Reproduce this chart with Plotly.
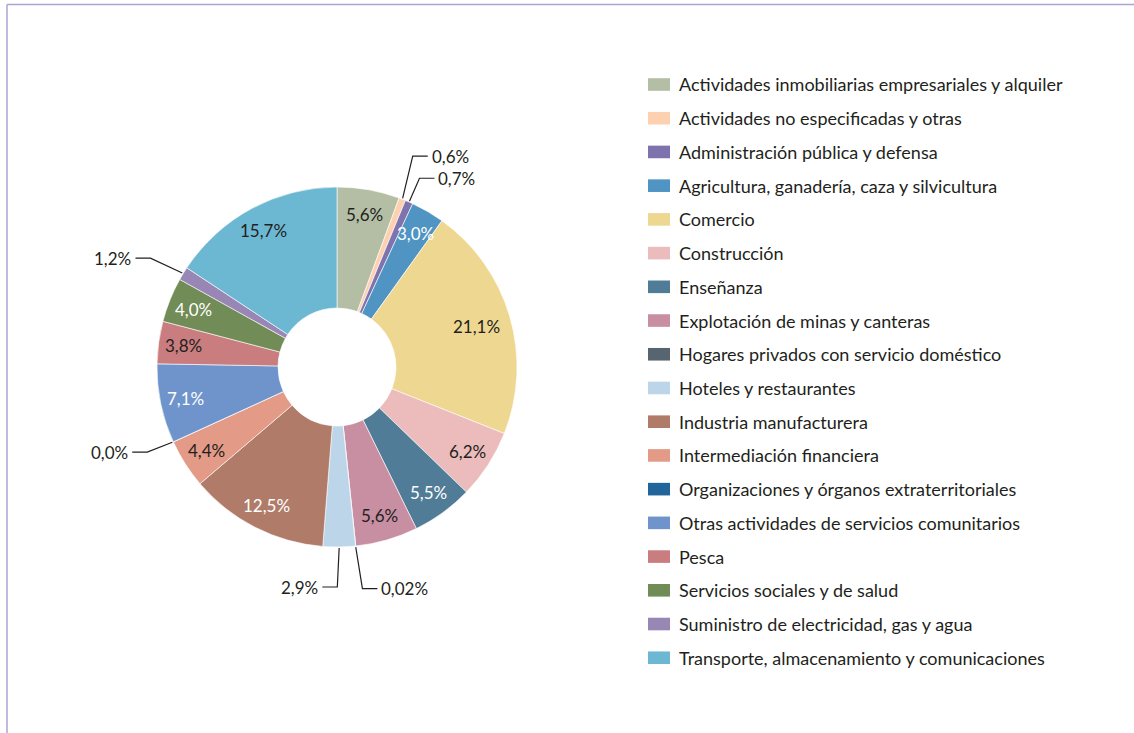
import math
import plotly.graph_objects as go

categories = [
    "Actividades inmobiliarias empresariales y alquiler",
    "Actividades no especificadas y otras",
    "Administración pública y defensa",
    "Agricultura, ganadería, caza y silvicultura",
    "Comercio",
    "Construcción",
    "Enseñanza",
    "Explotación de minas y canteras",
    "Hogares privados con servicio doméstico",
    "Hoteles y restaurantes",
    "Industria manufacturera",
    "Intermediación financiera",
    "Organizaciones y órganos extraterritoriales",
    "Otras actividades de servicios comunitarios",
    "Pesca",
    "Servicios sociales y de salud",
    "Suministro de electricidad, gas y agua",
    "Transporte, almacenamiento y comunicaciones",
]
values = [5.6, 0.6, 0.7, 3.0, 21.1, 6.2, 5.5, 5.6, 0.02, 2.9, 12.5, 4.4, 0.0, 7.1, 3.8, 4.0, 1.2, 15.7]

colors = [
    "#b3bea5", "#fdd1b0", "#7f73ad", "#4f94c2", "#eed891", "#ebbcbb",
    "#517c97", "#c88fa3", "#56656f", "#bcd5e8", "#b07c69", "#e39a86",
    "#22659a", "#6f94cc", "#c97d7f", "#718c56", "#9886b5", "#6cb8d3",
]
white_text = {3, 6, 10, 13, 15}
# index -> (elbow radius px, elbow angle shift deg, horizontal direction)
outside = {1: (224, -1.5, 1), 2: (206, 0, 1), 8: (223, -0.6, 1), 9: (220, 0.6, -1),
           12: (208, 0.4, -1), 16: (216, -1.0, -1)}
label_radius = {4: 145}

W, H = 1134, 733
CX, CY = 337, 367
R = 180
HOLE = 59
RAX = 260
FONT = "Lato"
TXT = "#231f20"


def fmt(v):
    s = f"{v:.2f}" if 0 < v < 0.1 else f"{v:.1f}"
    return s.replace(".", ",") + "%"


fig = go.Figure()
fig.add_trace(go.Pie(
    labels=categories, values=values, sort=False, direction="clockwise", rotation=0,
    hole=HOLE / R, textinfo="none", hoverinfo="label+percent", showlegend=False,
    marker=dict(colors=colors, line=dict(color="white", width=0.6)),
    domain=dict(x=[(CX - R) / W, (CX + R) / W], y=[(H - CY - R) / H, (H - CY + R) / H]),
))

total = sum(values)
cum = 0.0
annotations = []
for i, v in enumerate(values):
    mid = (cum + v / 2) / total * 2 * math.pi
    cum += v
    s, c = math.sin(mid), math.cos(mid)
    if i in outside:
        re, shift, d = outside[i]
        ea = mid + math.radians(shift)
        ex, ey = re * math.sin(ea), re * math.cos(ea)
        fig.add_trace(go.Scatter(
            x=[(R + 1) * s, ex, ex + d * 15], y=[(R + 1) * c, ey, ey],
            mode="lines", line=dict(color="#231f20", width=1.2),
            hoverinfo="skip", showlegend=False,
        ))
        annotations.append(dict(
            x=ex + d * 15, y=ey, xref="x", yref="y", text=fmt(v), showarrow=False,
            xanchor="left" if d > 0 else "right", yanchor="middle", xshift=d * 2,
            font=dict(family=FONT, size=17, color=TXT),
        ))
    else:
        rl = label_radius.get(i, 155)
        annotations.append(dict(
            x=rl * s, y=rl * c, xref="x", yref="y", text=fmt(v), showarrow=False,
            xanchor="center", yanchor="middle",
            font=dict(family=FONT, size=17, color="white" if i in white_text else TXT),
        ))

shapes = []
row0, step = 84.5, 33.72
for i, cat in enumerate(categories):
    yc = row0 + i * step
    shapes.append(dict(
        type="rect", xref="paper", yref="paper",
        x0=648 / W, x1=670 / W, y0=(H - yc - 6.3) / H, y1=(H - yc + 6.3) / H,
        fillcolor=colors[i], line=dict(width=0),
    ))
    annotations.append(dict(
        x=677 / W, y=(H - yc) / H, xref="paper", yref="paper", text=cat,
        showarrow=False, xanchor="left", yanchor="middle",
        font=dict(family=FONT, size=18, color=TXT),
    ))

shapes.append(dict(type="line", xref="paper", yref="paper", x0=7 / W, x1=1.0,
                   y0=1 - 4.5 / H, y1=1 - 4.5 / H, line=dict(color="#a9a5d4", width=1.5)))
shapes.append(dict(type="line", xref="paper", yref="paper", x0=7 / W, x1=7 / W,
                   y0=0, y1=1 - 4.5 / H, line=dict(color="#a9a5d4", width=1.5)))

fig.update_layout(
    width=W, height=H, margin=dict(l=0, r=0, t=0, b=0),
    paper_bgcolor="white", plot_bgcolor="rgba(0,0,0,0)",
    showlegend=False,
    xaxis=dict(domain=[(CX - RAX) / W, (CX + RAX) / W], range=[-RAX, RAX], visible=False, fixedrange=True),
    yaxis=dict(domain=[(H - CY - RAX) / H, (H - CY + RAX) / H], range=[-RAX, RAX], visible=False, fixedrange=True),
    annotations=annotations, shapes=shapes,
    font=dict(family=FONT, size=16, color=TXT),
)

fig.write_html("out.html", config={"displayModeBar": False},
               post_script="document.body.style.margin='0px';document.body.style.overflow='hidden';")
